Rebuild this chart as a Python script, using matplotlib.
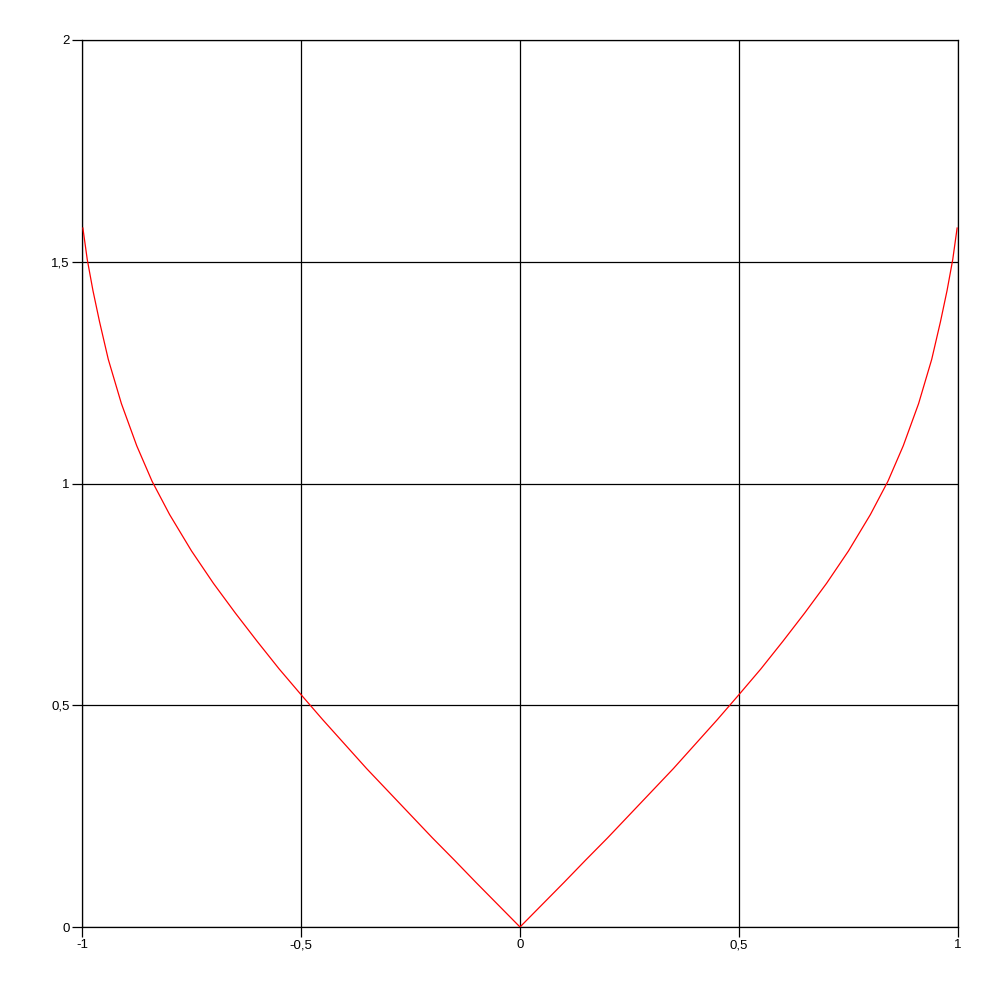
import numpy as np
import matplotlib
matplotlib.use("Agg")
import matplotlib.pyplot as plt

# curve values (right half, mirrored for the left)
x_right = [0.0, 0.05, 0.1, 0.15, 0.2, 0.25, 0.3, 0.35, 0.4, 0.45, 0.5, 0.55,
           0.6, 0.65, 0.7, 0.75, 0.8, 0.84, 0.875, 0.91, 0.94, 0.96, 0.975,
           0.988, 0.998]
y_right = [0.0, 0.050, 0.100, 0.151, 0.201, 0.253, 0.305, 0.357, 0.412, 0.467,
           0.524, 0.582, 0.644, 0.708, 0.775, 0.848, 0.930, 1.005, 1.085, 1.180,
           1.280, 1.365, 1.435, 1.505, 1.576]

x_ticks = [-1, -0.5, 0, 0.5, 1]
x_labels = ["-1", "-0,5", "0", "0,5", "1"]
y_ticks = [0, 0.5, 1, 1.5, 2]
y_labels = ["0", "0,5", "1", "1,5", "2"]

x = np.concatenate([-np.array(x_right[::-1]), np.array(x_right[1:])])
y = np.concatenate([np.array(y_right[::-1]), np.array(y_right[1:])])

plt.rcParams['font.family'] = ['Liberation Sans', 'DejaVu Sans']

fig = plt.figure(figsize=(10, 10), dpi=100)
ax = fig.add_axes([0.082, 0.073, 0.876, 0.887])

ax.plot(x, y, color='red', linewidth=0.9, zorder=3)

ax.set_xlim(-1, 1)
ax.set_ylim(0, 2)
ax.set_xticks(x_ticks)
ax.set_xticklabels(x_labels)
ax.set_yticks(y_ticks)
ax.set_yticklabels(y_labels)
ax.grid(True, color='black', linewidth=0.9)

for s in ax.spines.values():
    s.set_color('black')
    s.set_linewidth(0.9)

ax.tick_params(axis='both', length=7, width=0.9, color='black', labelsize=9.5, pad=2)

fig.savefig("out.png", dpi=100, facecolor='white')
